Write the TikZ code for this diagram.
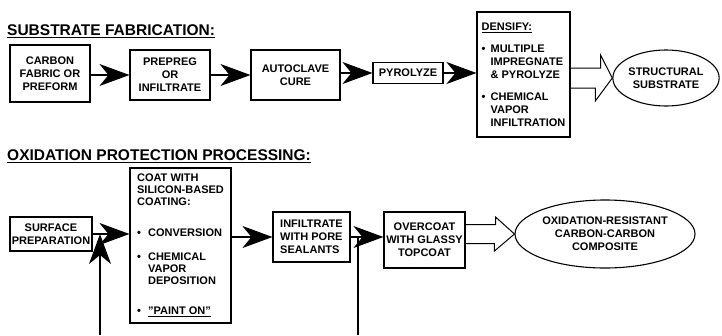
\documentclass[tikz,border=0pt]{standalone}
\usepackage{fontspec}
\setmainfont{Liberation Sans}
\usetikzlibrary{arrows.meta,shapes.geometric,calc}
\begin{document}
\begin{tikzpicture}[x=1pt,y=-1pt,
  every node/.style={font=\bfseries\fontsize{11}{13}\selectfont},
  box/.style={draw,line width=1.1pt,rectangle,inner sep=1pt,align=center},
  lbox/.style={box,align=left},
  oval/.style={draw,line width=1.1pt,ellipse,inner sep=0pt,align=center},
  flow/.style={line width=1.1pt,-{Stealth[length=30pt,width=22pt,inset=9pt]}},
  plain/.style={line width=1.1pt},
  hollow/.style={line width=1pt,line join=miter},
  title/.style={anchor=base west,inner sep=0pt,font=\bfseries\fontsize{15.5}{18}\selectfont},
  uline/.style={line width=1.2pt}]
\useasboundingbox (0,0) rectangle (722,335);

% ---------- Substrate fabrication ----------
\node[title] (t1) at (7,35) {SUBSTRATE FABRICATION:};
\draw[uline] ([yshift=-2.5pt]t1.base west) -- ([yshift=-2.5pt]t1.base east);

\node[box,minimum width=80pt,minimum height=57pt] (b1) at (50,73.5) {CARBON\\FABRIC OR\\PREFORM};
\node[box,minimum width=80pt,minimum height=50pt] (b2) at (170,75) {PREPREG\\OR\\INFILTRATE};
\node[box,minimum width=89pt,minimum height=50pt] (b3) at (295.5,75) {AUTOCLAVE\\CURE};
\node[box,minimum width=70pt,minimum height=21pt] (pyr) at (408,73) {PYROLYZE};
\node[lbox,minimum width=93pt,minimum height=125pt] (dens) at (523.5,74.5)
  {\underline{DENSIFY:}\\[9pt]
   \makebox[9pt][l]{•}MULTIPLE\\
   \hspace*{9pt}IMPREGNATE\\
   \hspace*{9pt}\& PYROLYZE\\[9pt]
   \makebox[9pt][l]{•}CHEMICAL\\
   \hspace*{9pt}VAPOR\\
   \hspace*{9pt}INFILTRATION};
\node[oval,minimum width=98pt,minimum height=56pt] (ell1) at (666,78) {STRUCTURAL\\SUBSTRATE};

\draw[flow] (b1.east|-b2.west) -- (b2.west);
\draw[flow] (b2.east) -- (b2.east-|b3.west);
\draw[flow] (b3.east|-pyr.west) -- (pyr.west);
\draw[flow] (pyr.east) -- (pyr.east-|dens.west);
\draw[hollow] ($(dens.east|-ell1.west)+(0,-10)$) -- ++(30,0) -- ++(0,-13)
  -- (ell1.west) -- ++(-17,23) -- ++(0,-13) -- ($(dens.east|-ell1.west)+(0,10)$);

% ---------- Oxidation protection processing ----------
\node[title] (t2) at (7,160) {OXIDATION PROTECTION PROCESSING:};
\draw[uline] ([yshift=-2.5pt]t2.base west) -- ([yshift=-2.5pt]t2.base east);

\node[box,inner sep=0pt,minimum width=82pt,minimum height=34pt] (sp) at (51,234) {SURFACE\\PREPARATION};
\node[lbox,minimum width=101pt,minimum height=155pt,font=\bfseries\fontsize{11}{12}\selectfont] (coat) at (180.5,245.5)
  {COAT WITH\\SILICON-BASED\\COATING:\\[19pt]
   \makebox[11pt][l]{•}CONVERSION\\[12pt]
   \makebox[11pt][l]{•}CHEMICAL\\
   \hspace*{11pt}VAPOR\\
   \hspace*{11pt}DEPOSITION\\[18pt]
   \makebox[11pt][l]{•}\underline{"PAINT ON"}};
\node[lbox,minimum width=77pt,minimum height=50pt] (inf) at (311.5,237) {INFILTRATE\\WITH PORE\\SEALANTS};
\node[box,minimum width=81pt,minimum height=56pt] (over) at (424.5,240) {OVERCOAT\\WITH GLASSY\\TOPCOAT};
\node[oval,minimum width=180pt,minimum height=68pt] (ell2) at (605,234) {OXIDATION-RESISTANT\\CARBON-CARBON\\COMPOSITE};

\coordinate (lb) at (100,335);
\coordinate (rb) at (358,335);

\draw[flow] (sp.east) -- (sp.east-|coat.west);
\draw[flow] (lb) -- (lb|-sp.east);
\draw[flow] (coat.east|-inf.west) -- (inf.west);
\draw[flow] (inf.east) -- (inf.east-|over.west);
\draw[plain] (rb|-inf.east) -- (rb);
\draw[hollow] ($(over.east|-ell2.west)+(0,-9.5)$) -- ++(30,0) -- ++(0,-7.5)
  -- (ell2.west) -- ++(-20,17) -- ++(0,-7.5) -- ($(over.east|-ell2.west)+(0,9.5)$);
\end{tikzpicture}
\end{document}
